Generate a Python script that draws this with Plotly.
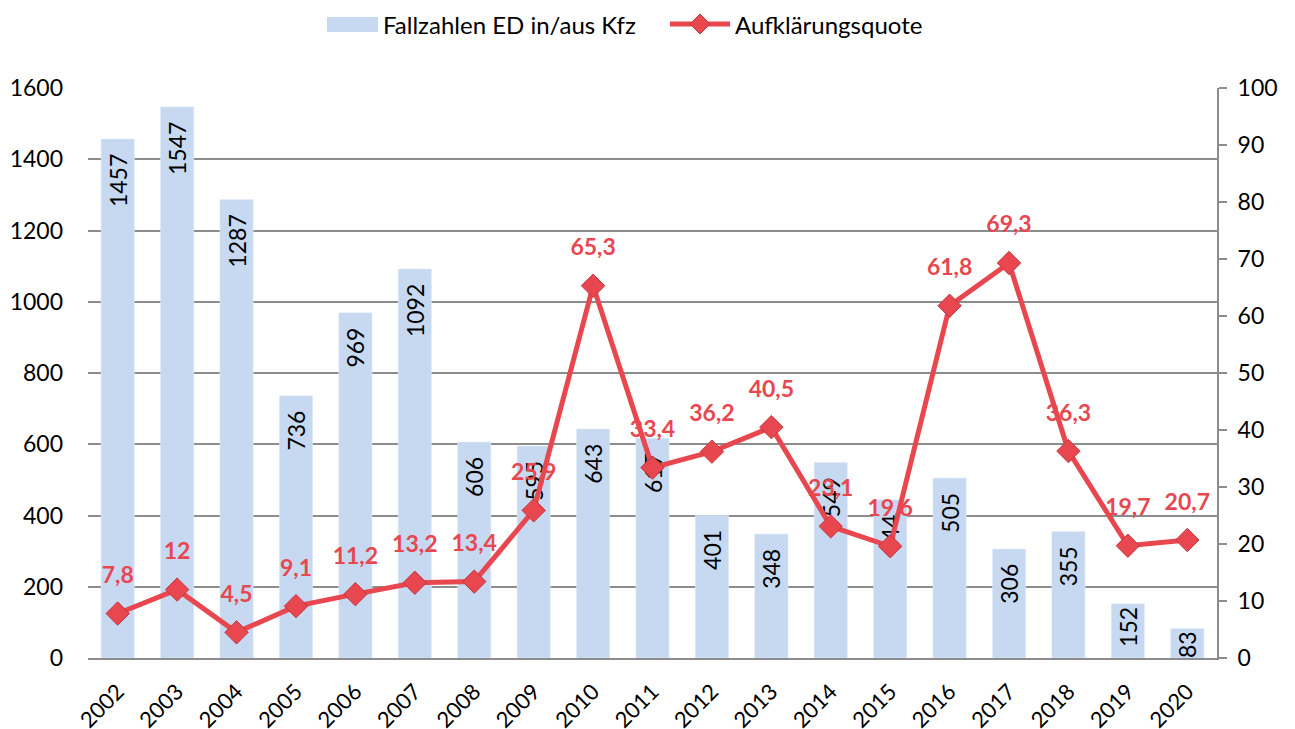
import plotly.graph_objects as go

years = ["2002", "2003", "2004", "2005", "2006", "2007", "2008", "2009", "2010", "2011",
         "2012", "2013", "2014", "2015", "2016", "2017", "2018", "2019", "2020"]
cases = [1457, 1547, 1287, 736, 969, 1092, 606, 595, 643, 617, 401, 348, 549, 444, 505, 306, 355, 152, 83]
rate = [7.8, 12, 4.5, 9.1, 11.2, 13.2, 13.4, 25.9, 65.3, 33.4, 36.2, 40.5, 23.1, 19.6, 61.8, 69.3, 36.3, 19.7, 20.7]
bar_name = "Fallzahlen ED in/aus Kfz"
line_name = "Aufklärungsquote"

bar_color = "#C6D9F1"
line_color = "#E8474F"
FONT = "Lato, 'Open Sans', sans-serif"

W, H = 1295, 729
L, R, T, B = 88, 78, 88, 71

def fmt(v):
    return ("%g" % v).replace(".", ",")

def bar_text(c):
    # a little padding below the bar top for bars that are tall enough
    return str(c) + ("\u00a0\u00a0" if c > 250 else "")

def px(x):
    return (x - L) / (W - L - R)

def py(y):
    return (H - B - y) / (H - T - B)

fig = go.Figure()
fig.add_trace(go.Bar(
    x=years, y=cases, name=bar_name,
    marker=dict(color=bar_color),
    text=[bar_text(c) for c in cases], textposition="inside", insidetextanchor="end",
    textangle=-90, textfont=dict(color="black", size=23, family=FONT),
    showlegend=False, hoverinfo="x+y",
))
fig.add_trace(go.Scatter(
    x=years, y=rate, name=line_name, yaxis="y2", mode="lines+markers",
    line=dict(color=line_color, width=5),
    marker=dict(symbol="diamond", size=18, color=line_color, line=dict(color="#C0393F", width=1)),
    showlegend=False,
))
# value labels of the line (invisible large markers push text upward)
fig.add_trace(go.Scatter(
    x=years, y=rate, yaxis="y2", mode="markers+text",
    text=["<b>%s</b>" % fmt(v) for v in rate], textposition="top center",
    textfont=dict(color=line_color, size=23, family=FONT),
    marker=dict(size=38, opacity=0), showlegend=False, hoverinfo="skip", cliponaxis=False,
))

# custom legend
fig.add_shape(type="rect", xref="paper", yref="paper", x0=px(327), x1=px(378), y0=py(32), y1=py(17),
              fillcolor=bar_color, line=dict(width=0))
fig.add_annotation(xref="paper", yref="paper", x=px(381), y=py(24), xanchor="left", yanchor="middle",
                   text=bar_name, showarrow=False, font=dict(size=24, family=FONT, color="black"))
fig.add_shape(type="line", xref="paper", yref="paper", x0=px(670), x1=px(730), y0=py(24), y1=py(24),
              line=dict(color=line_color, width=5))
fig.add_shape(type="path", xref="paper", yref="paper",
              path="M %f,%f L %f,%f L %f,%f L %f,%f Z" % (px(700), py(14), px(710), py(24),
                                                         px(700), py(34), px(690), py(24)),
              fillcolor=line_color, line=dict(color="#C0393F", width=1))
fig.add_annotation(xref="paper", yref="paper", x=px(733), y=py(24), xanchor="left", yanchor="middle",
                   text=line_name, showarrow=False, font=dict(size=24, family=FONT, color="black"))

fig.update_layout(
    width=W, height=H,
    margin=dict(l=L, r=R, t=T, b=B, autoexpand=False),
    paper_bgcolor="white", plot_bgcolor="white",
    font=dict(family=FONT, size=22, color="black"),
    bargap=0.44,
    showlegend=False,
    uniformtext=dict(minsize=23, mode="show"),
    xaxis=dict(type="category", range=[-0.5, 18.5], tickangle=-45, showline=True,
               linecolor="#8C8C8C", linewidth=2, ticks="", tickfont=dict(size=22),
               automargin=False, ticklabelstandoff=10),
    yaxis=dict(range=[0, 1600], dtick=200, showgrid=True, gridcolor="#8C8C8C", gridwidth=1.5,
               zeroline=False, showline=False, ticks="", tickfont=dict(size=23),
               automargin=False, ticklabelstandoff=24),
    yaxis2=dict(range=[0, 100], dtick=10, overlaying="y", side="right", showgrid=False,
                zeroline=False, showline=True, linecolor="#8C8C8C", linewidth=2,
                ticks="outside", ticklen=8, tickcolor="#8C8C8C", tickwidth=2,
                tickfont=dict(size=23), automargin=False, ticklabelstandoff=6),
)

fig.write_html("out.html", config={"displayModeBar": False},
               post_script="document.body.style.margin='0';")
